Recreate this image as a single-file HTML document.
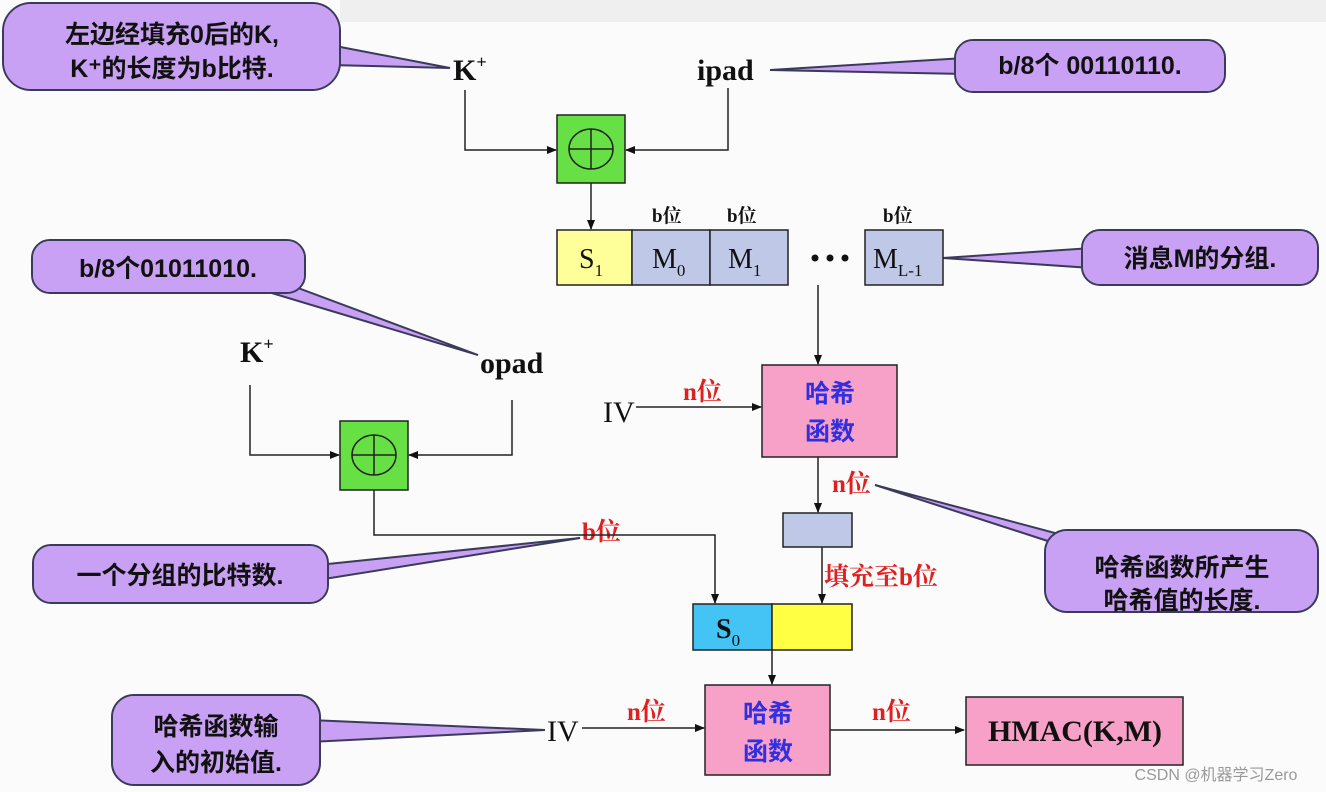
<!DOCTYPE html>
<html><head><meta charset="utf-8"><style>
html,body{margin:0;padding:0;background:#fbfbfb;}
svg{display:block}
.cn{font-family:"Liberation Sans","Noto Sans CJK SC",sans-serif;font-weight:bold;}
.sf{font-family:"Liberation Serif","Noto Serif CJK SC",serif;font-weight:bold;}
</style></head><body>
<svg width="1326" height="792" viewBox="0 0 1326 792" xmlns="http://www.w3.org/2000/svg">
<defs>
<marker id="a" markerWidth="10" markerHeight="10" refX="9" refY="5" orient="auto" markerUnits="userSpaceOnUse"><path d="M0,1 L10,5 L0,9 Z" fill="#111"/></marker>
</defs>
<rect width="1326" height="792" fill="#fbfbfb"/>
<rect x="340" y="0" width="986" height="22" fill="#e8e8e8" opacity="0.6"/>
<g fill="#c8a0f4" stroke="#3a3a5a" stroke-width="2">
<polygon points="330,45 450,68 330,65"/>
<rect x="3" y="3" width="337" height="87" rx="28"/>
<polygon points="965,58 770,70 965,74"/>
<rect x="955" y="40" width="270" height="52" rx="18"/>
<polygon points="1092,248 943,258 1092,268"/>
<rect x="1082" y="230" width="236" height="55" rx="18"/>
<polygon points="245,285 478,355 290,285"/>
<rect x="32" y="240" width="273" height="53" rx="18"/>
<polygon points="318,565 580,538 318,580"/>
<rect x="33" y="545" width="295" height="58" rx="18"/>
<polygon points="1060,545 875,485 1100,545"/>
<rect x="1045" y="530" width="273" height="82" rx="22"/>
<polygon points="310,720 545,730 310,742"/>
<rect x="112" y="695" width="208" height="90" rx="22"/>
</g>
<g fill="#c8a0f4">
<rect x="4" y="4" width="335" height="85" rx="27"/>
<rect x="956" y="41" width="268" height="50" rx="17"/>
<rect x="1083" y="231" width="234" height="53" rx="17"/>
<rect x="33" y="241" width="271" height="51" rx="17"/>
<rect x="34" y="546" width="293" height="56" rx="17"/>
<rect x="1046" y="531" width="271" height="80" rx="21"/>
<rect x="113" y="696" width="206" height="88" rx="21"/>
</g>
<g class="cn" fill="#111" font-size="25" text-anchor="middle">
<text x="172" y="43">左边经填充0后的K,</text>
<text x="172" y="77">K⁺的长度为b比特.</text>
<text x="1090" y="74">b/8个 00110110.</text>
<text x="1200" y="267">消息M的分组.</text>
<text x="168" y="277">b/8个01011010.</text>
<text x="180" y="584">一个分组的比特数.</text>
<text x="1182" y="576">哈希函数所产生</text>
<text x="1182" y="609">哈希值的长度.</text>
<text x="216" y="735">哈希函数输</text>
<text x="216" y="771">入的初始值.</text>
</g>
<g stroke="#222" stroke-width="1.5">
<rect x="557" y="115" width="68" height="68" fill="#66e044"/>
<rect x="340" y="421" width="68" height="69" fill="#66e044"/>
<rect x="557" y="230" width="75" height="55" fill="#ffff99"/>
<rect x="632" y="230" width="78" height="55" fill="#c0c8e8"/>
<rect x="710" y="230" width="78" height="55" fill="#c0c8e8"/>
<rect x="865" y="230" width="78" height="55" fill="#c0c8e8"/>
<rect x="762" y="365" width="135" height="92" fill="#f7a0c8"/>
<rect x="783" y="513" width="69" height="34" fill="#c0c8e8"/>
<rect x="693" y="604" width="79" height="46" fill="#44c4f4"/>
<rect x="772" y="604" width="80" height="46" fill="#ffff44"/>
<rect x="705" y="685" width="125" height="90" fill="#f7a0c8"/>
<rect x="966" y="697" width="217" height="68" fill="#f7a0c8"/>
</g>
<g class="sf" fill="#111">
<text x="453" y="80" font-size="30">K<tspan font-size="18" dy="-12">+</tspan></text>
<text x="697" y="80" font-size="30">ipad</text>
<text x="240" y="362" font-size="30">K<tspan font-size="18" dy="-12">+</tspan></text>
<text x="480" y="373" font-size="30">opad</text>
<text x="603" y="422" font-size="30" font-weight="normal">IV</text>
<text x="547" y="741" font-size="30" font-weight="normal">IV</text>
<text x="1075" y="741" font-size="30" text-anchor="middle">HMAC(K,M)</text>
<text x="652" y="222" font-size="19">b位</text>
<text x="727" y="222" font-size="19">b位</text>
<text x="883" y="222" font-size="19">b位</text>
</g>
<g class="sf" fill="#e02020" font-size="25">
<text x="683" y="400">n位</text>
<text x="832" y="492">n位</text>
<text x="582" y="540">b位</text>
<text x="824" y="585">填充至b位</text>
<text x="627" y="720">n位</text>
<text x="872" y="720">n位</text>
</g>
<g stroke="#222" stroke-width="1.5" fill="none">
<polyline points="465,90 465,150 556,150" marker-end="url(#a)"/>
<polyline points="728,88 728,150 626,150" marker-end="url(#a)"/>
<line x1="591" y1="183" x2="591" y2="229" marker-end="url(#a)"/>
<line x1="818" y1="285" x2="818" y2="364" marker-end="url(#a)"/>
<line x1="636" y1="407" x2="761" y2="407" marker-end="url(#a)"/>
<line x1="818" y1="457" x2="818" y2="512" marker-end="url(#a)"/>
<line x1="822" y1="547" x2="822" y2="603" marker-end="url(#a)"/>
<polyline points="250,385 250,455 339,455" marker-end="url(#a)"/>
<polyline points="512,400 512,455 409,455" marker-end="url(#a)"/>
<polyline points="374,490 374,535 715,535 715,603" marker-end="url(#a)"/>
<line x1="772" y1="650" x2="772" y2="684" marker-end="url(#a)"/>
<line x1="582" y1="728" x2="704" y2="728" marker-end="url(#a)"/>
<line x1="830" y1="730" x2="964" y2="730" marker-end="url(#a)"/>
</g>
<g stroke="#222" stroke-width="1.5" fill="none">
<ellipse cx="591" cy="149" rx="22" ry="20"/><line x1="569" y1="149" x2="613" y2="149"/><line x1="591" y1="129" x2="591" y2="169"/>
<ellipse cx="374" cy="455" rx="22" ry="20"/><line x1="352" y1="455" x2="396" y2="455"/><line x1="374" y1="435" x2="374" y2="475"/>
</g>
<g font-family="Liberation Serif,serif" fill="#111">
<text x="579" y="268" font-size="28">S<tspan font-size="17" dy="8">1</tspan></text>
<text x="652" y="268" font-size="28">M<tspan font-size="17" dy="8">0</tspan></text>
<text x="728" y="268" font-size="28">M<tspan font-size="17" dy="8">1</tspan></text>
<text x="873" y="268" font-size="28">M<tspan font-size="17" dy="8">L-1</tspan></text>
<text x="716" y="638" font-size="28" font-weight="bold">S<tspan font-size="17" dy="8" font-weight="normal">0</tspan></text>
</g>
<g fill="#111"><circle cx="815" cy="258" r="3.5"/><circle cx="830" cy="258" r="3.5"/><circle cx="845" cy="258" r="3.5"/></g>
<g class="cn" fill="#3030e0" font-size="25" text-anchor="middle">
<text x="830" y="402">哈希</text><text x="830" y="440">函数</text>
<text x="768" y="722">哈希</text><text x="768" y="760">函数</text>
</g>
<text x="1216" y="780" text-anchor="middle" font-family="Liberation Sans,Noto Sans CJK SC,sans-serif" font-size="16" fill="#999">CSDN @机器学习Zero</text>
</svg>
</body></html>
